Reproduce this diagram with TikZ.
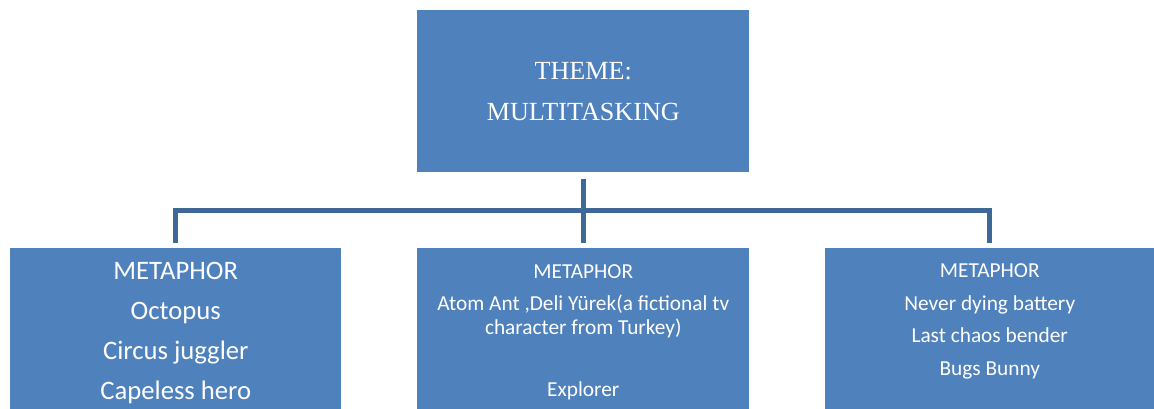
\documentclass[tikz,border=0pt]{standalone}
\usepackage{fontspec}
\setmainfont{Liberation Serif}
\newfontfamily\bodyfont{Carlito}
\definecolor{boxblue}{HTML}{4F81BD}
\definecolor{barblue}{HTML}{3F6797}
\tikzset{
  box/.style={fill=boxblue,text=white,inner sep=0pt,align=center,anchor=north west},
  bar/.style={draw=barblue,line width=3.75pt,line join=miter}
}
\begin{document}
\begin{tikzpicture}[x=.75pt,y=-.75pt]
\path[use as bounding box] (0,0) rectangle (1154,409);
% theme box
\node[box,minimum width=249pt,minimum height=121.5pt,font=\fontsize{19.6}{30.75}\selectfont] (theme) at (417,10) {THEME:\\MULTITASKING};
% metaphor boxes (cut by the bottom edge)
\node[box,minimum width=248.25pt,minimum height=120.75pt,font=\bodyfont\fontsize{20}{30}\selectfont] (metaL) at (10,248) {\rule{0pt}{19.3pt}METAPHOR\\Octopus\\Circus juggler\\Capeless hero};
\node[box,minimum width=249pt,minimum height=120.75pt,font=\bodyfont\fontsize{16}{18}\selectfont] (metaM) at (417,248) {\rule{0pt}{16.3pt}METAPHOR\\[5.5pt]Atom Ant ,Deli Yürek(a fictional tv\\character from Turkey)\\[29pt]Explorer};
\node[box,minimum width=246.75pt,minimum height=120.75pt,font=\bodyfont\fontsize{16}{24.4}\selectfont] (metaR) at (825,248) {METAPHOR\\Never dying battery\\Last chaos bender\\Bugs Bunny\rule[-13.5pt]{0pt}{0pt}};
% connectors
\coordinate (hub) at (583,210.5);
\draw[bar] ([yshift=-4.5pt]theme.south) -- ([yshift=3.75pt]metaM.north);
\draw[bar] ([yshift=3.75pt]metaL.north) -- (metaL.north |- hub) -- (metaR.north |- hub) -- ([yshift=3.75pt]metaR.north);
\end{tikzpicture}
\end{document}
